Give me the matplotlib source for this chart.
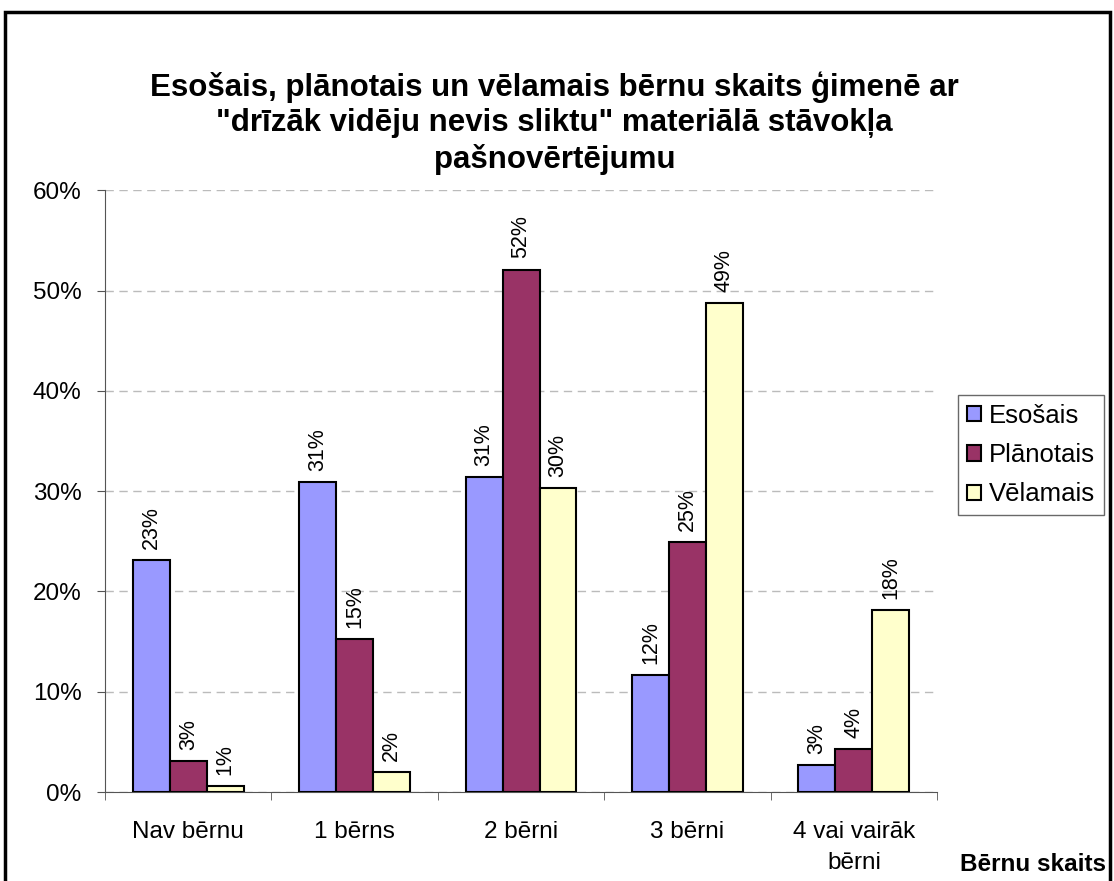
import matplotlib
matplotlib.use("Agg")
import matplotlib.pyplot as plt
from matplotlib.patches import Rectangle
import numpy as np

plt.rcParams["font.family"] = ["Liberation Sans", "DejaVu Sans"]

categories = ["Nav bērnu", "1 bērns", "2 bērni", "3 bērni", "4 vai vairāk\nbērni"]
series_names = ["Esošais", "Plānotais", "Vēlamais"]
esosais = [23.1, 30.9, 31.4, 11.7, 2.7]
planotais = [3.1, 15.3, 52.1, 24.9, 4.3]
velamais = [0.6, 2.0, 30.3, 48.8, 18.1]
colors = ["#9999FF", "#993366", "#FFFFCC"]
title = ("Esošais, plānotais un vēlamais bērnu skaits ģimenē ar\n"
         "\"drīzāk vidēju nevis sliktu\" materiālā stāvokļa\n"
         "pašnovērtējumu")

fig = plt.figure(figsize=(11.14, 8.81), dpi=100)
ax = fig.add_axes([0.0943, 0.101, 0.7469, 0.683])

x = np.arange(len(categories))
w = 0.222
for i, (vals, name, c) in enumerate(zip([esosais, planotais, velamais], series_names, colors)):
    pos = x + (i - 1) * w
    ax.bar(pos, vals, width=w, color=c, edgecolor="black", linewidth=1.5,
           label=name, zorder=3)
    for p, v in zip(pos, vals):
        ax.text(p, v + 1.1, f"{v:.0f}%", rotation=90, ha="center", va="bottom",
                fontsize=15.5)

ax.set_xlim(-0.5, len(categories) - 0.5)
ax.set_ylim(0, 60)
ax.set_yticks(range(0, 61, 10))
ax.set_yticklabels([f"{t}%" for t in range(0, 61, 10)], fontsize=17.5)
ax.yaxis.grid(True, linestyle=(0, (6, 4)), color="#BBBBBB", linewidth=1, zorder=0)

ax.set_xticks(x)
ax.set_xticklabels(categories, fontsize=17.5, linespacing=1.5)
ax.tick_params(axis="x", which="major", length=0, pad=21)
ax.set_xticks(np.arange(-0.5, len(categories)), minor=True)
ax.tick_params(axis="x", which="minor", length=6, direction="out", color="#555555")
ax.tick_params(axis="y", length=6, direction="out", color="#555555", pad=11)

for s in ["top", "right"]:
    ax.spines[s].set_visible(False)
for s in ["left", "bottom"]:
    ax.spines[s].set_color("#555555")

fig.text(0.498, 0.919, title, ha="center", va="top", fontsize=22.5,
         fontweight="bold", linespacing=1.24)
fig.text(0.927, 0.011, "Bērnu skaits", ha="center", va="baseline", fontsize=17.5,
         fontweight="bold")

leg = ax.legend(loc="center left", bbox_to_anchor=(1.025, 0.56), fontsize=18.5,
                frameon=True, fancybox=False, edgecolor="#444444",
                handlelength=0.55, handleheight=0.55, handletextpad=0.3,
                labelspacing=0.6, borderpad=0.35, borderaxespad=0)
leg.get_frame().set_linewidth(1)
for h in leg.legend_handles:
    h.set_edgecolor("black")
    h.set_linewidth(1.5)

fig.patches.append(Rectangle((0.0045, -0.05), 0.9915, 1.036, transform=fig.transFigure,
                             fill=False, edgecolor="black", linewidth=2.5))

fig.savefig("out.png", dpi=100)
